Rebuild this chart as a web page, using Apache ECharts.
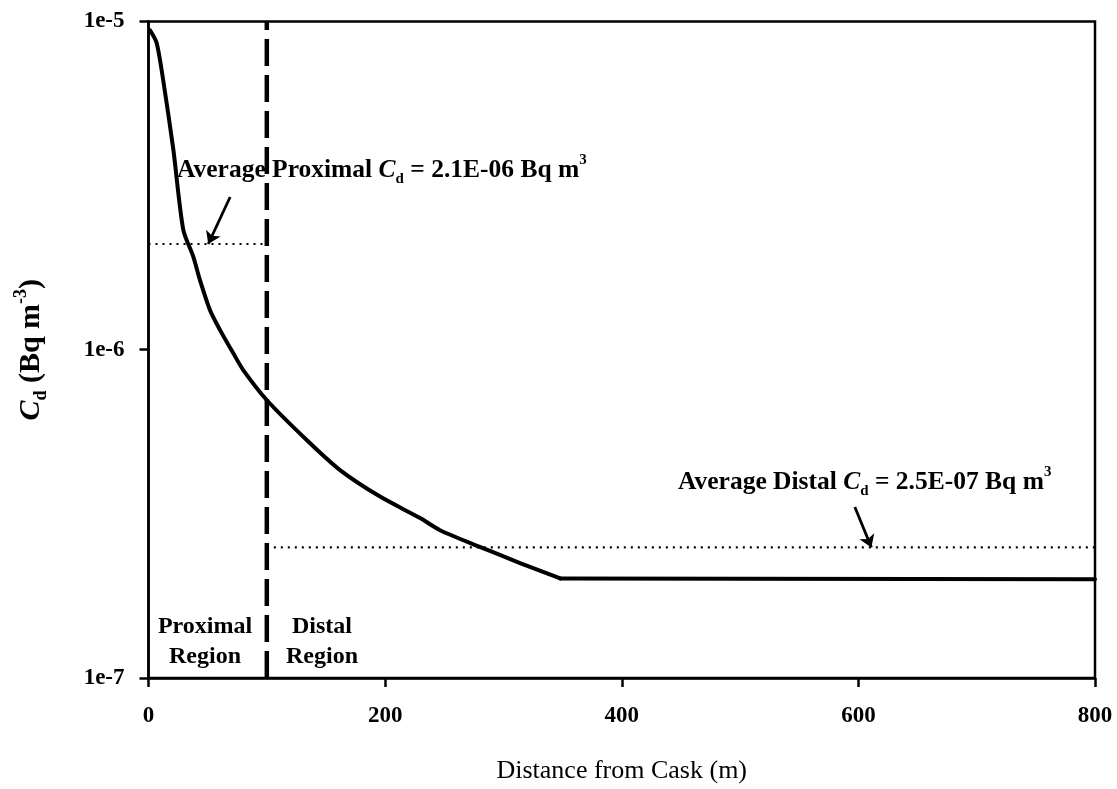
<!DOCTYPE html>
<html>
<head>
<meta charset="utf-8">
<script src="https://cdn.jsdelivr.net/npm/echarts@6/dist/echarts.min.js"></script>
<style>
  html, body { margin: 0; padding: 0; background: #fff; }
  #chart { width: 1117px; height: 789px; }
</style>
</head>
<body>
<div id="chart"></div>
<script>
// Airborne concentration C_d versus distance from the cask (log scale)
const distance = [1.3, 6.9, 12.5, 21, 29.4, 37.9, 43.5, 52, 60.4, 71.7, 80.1, 99.9,
                  133.7, 161.9, 195.7, 229.6, 246.4, 280, 314, 348, 800];
const concentration = [9.4e-6, 8.6e-6, 6.6e-6, 4.07e-6, 2.32e-6, 1.92e-6, 1.63e-6, 1.32e-6,
                       1.15e-6, 9.75e-7, 8.67e-7, 7.03e-7, 5.31e-7, 4.30e-7, 3.57e-7,
                       3.07e-7, 2.82e-7, 2.51e-7, 2.24e-7, 2.01e-7, 2.0e-7];
// distance where the concentration levels off
const plateauStart = 348;

// Region boundary and averages
const regionBoundary = 100;
const distanceMax = 800;
const proximalAverage = 2.1e-6;
const distalAverage = 2.5e-7;

// Annotation arrows: [start, tip]
const proximalArrow = [[69, 2.92e-6], [50.5, 2.1e-6]];
const distalArrow = [[597, 3.32e-7], [611, 2.5e-7]];

// Axis ticks
const xTicks = [0, 200, 400, 600, 800];
const yTickLabels = { '-7': '1e-7', '-6': '1e-6', '-5': '1e-5' };

const FONT = '"Liberation Serif", "DejaVu Serif", serif';

const chart = echarts.init(document.getElementById('chart'), null, { renderer: 'canvas' });

const points = distance.map((d, i) => [d, concentration[i]]);
const split = distance.indexOf(plateauStart);
const decay = points.slice(0, split + 1);
const plateau = points.slice(split);

const subStyle = (size, bold) => ({
  fontFamily: FONT, fontWeight: bold ? 'bold' : 'normal', fontSize: size, color: '#000', fill: '#000',
  verticalAlign: 'bottom', lineHeight: size
});
const supStyle = (size, bold) => ({
  fontFamily: FONT, fontWeight: bold ? 'bold' : 'normal', fontSize: size, color: '#000', fill: '#000',
  verticalAlign: 'top', lineHeight: size
});
const normStyle = (size, lh, italic, bold) => ({
  fontFamily: FONT, fontWeight: bold ? 'bold' : 'normal', fontSize: size, color: '#000', fill: '#000',
  fontStyle: italic ? 'italic' : 'normal', lineHeight: lh
});

const annotationRich = {
  n: normStyle(25.5, 34, false, true),
  i: normStyle(25.5, 34, true, true),
  s: subStyle(15, true),
  p: supStyle(15, true)
};

const curveLine = { color: '#000', width: 4, cap: 'round', join: 'round' };

const option = {
  animation: false,
  backgroundColor: '#fff',
  grid: {
    left: 148.5, right: 22, top: 21.5, bottom: 111,
    show: true, borderColor: '#000', borderWidth: 2.5, backgroundColor: 'transparent'
  },
  xAxis: {
    type: 'value',
    min: xTicks[0], max: xTicks[xTicks.length - 1], interval: xTicks[1] - xTicks[0],
    axisLine: { show: true, onZero: false, lineStyle: { color: '#000', width: 2.5 } },
    axisTick: { show: true, inside: false, length: 9, lineStyle: { color: '#000', width: 2.5 } },
    axisLabel: { color: '#000', fontFamily: FONT, fontWeight: 'bold', fontSize: 23, margin: 27 },
    splitLine: { show: false },
    name: 'Distance from Cask (m)',
    nameLocation: 'middle',
    nameGap: 80,
    nameTextStyle: { color: '#000', fontFamily: FONT, fontSize: 26 }
  },
  yAxis: {
    type: 'log', logBase: 10, min: 1e-7, max: 1e-5,
    axisLine: { show: true, lineStyle: { color: '#000', width: 2.5 } },
    axisTick: { show: true, inside: false, length: 9, lineStyle: { color: '#000', width: 2.5 } },
    minorTick: { show: false },
    axisLabel: {
      color: '#000', fontFamily: FONT, fontWeight: 'bold', fontSize: 23, margin: 24,
      formatter: (v) => yTickLabels[String(Math.round(Math.log10(v)))] || ''
    },
    splitLine: { show: false },
    name: '{i|C}{s|d}{n| (Bq m}{p|-3}{n|)}',
    nameLocation: 'middle',
    nameRotate: 90,
    nameGap: 98,
    nameTextStyle: {
      color: '#000',
      rich: {
        n: { fontFamily: FONT, fontSize: 30, fontWeight: 'bold', color: '#000', lineHeight: 38 },
        i: { fontFamily: FONT, fontSize: 30, fontWeight: 'bold', color: '#000', fontStyle: 'italic', lineHeight: 38 },
        s: { fontFamily: FONT, fontSize: 18, fontWeight: 'bold', color: '#000', verticalAlign: 'bottom', lineHeight: 18 },
        p: { fontFamily: FONT, fontSize: 18, fontWeight: 'bold', color: '#000', verticalAlign: 'top', lineHeight: 18 }
      }
    }
  },
  series: [
    {
      name: 'C_d decay',
      type: 'line',
      data: decay,
      showSymbol: false,
      symbol: 'none',
      smooth: 0.25,
      lineStyle: curveLine,
      z: 5
    },
    {
      name: 'C_d plateau',
      type: 'line',
      data: plateau,
      showSymbol: false,
      symbol: 'none',
      lineStyle: curveLine,
      z: 5
    },
    {
      name: 'Region boundary',
      type: 'line',
      data: [[regionBoundary, 1e-7], [regionBoundary, 1e-5]],
      symbol: 'none',
      lineStyle: { color: '#000', width: 4.5, type: [27, 9] },
      z: 4
    },
    {
      name: 'Average proximal',
      type: 'line',
      data: [[0, proximalAverage], [regionBoundary, proximalAverage]],
      symbol: 'none',
      lineStyle: { color: '#000', width: 2.2, type: [2, 5] },
      z: 3
    },
    {
      name: 'Average distal',
      type: 'line',
      data: [[regionBoundary, distalAverage], [distanceMax, distalAverage]],
      symbol: 'none',
      lineStyle: { color: '#000', width: 2.2, type: [2, 5] },
      z: 3
    },
    {
      name: 'Arrows',
      type: 'lines',
      coordinateSystem: 'cartesian2d',
      symbol: ['none', 'arrow'],
      symbolSize: [1, 12],
      lineStyle: { color: '#000', width: 2.8, opacity: 1 },
      data: [{ coords: proximalArrow }, { coords: distalArrow }],
      z: 6
    }
  ],
  graphic: [
    {
      type: 'text', x: 177, y: 170, z: 10,
      style: {
        text: '{n|Average Proximal }{i|C}{s|d}{n| = 2.1E-06 Bq m}{p|3}',
        rich: annotationRich, align: 'left', verticalAlign: 'middle', fill: '#000'
      }
    },
    {
      type: 'text', x: 678, y: 482, z: 10,
      style: {
        text: '{n|Average Distal }{i|C}{s|d}{n| = 2.5E-07 Bq m}{p|3}',
        rich: annotationRich, align: 'left', verticalAlign: 'middle', fill: '#000'
      }
    },
    {
      type: 'text', x: 205, y: 642, z: 10,
      style: {
        text: 'Proximal\nRegion', fill: '#000',
        font: 'bold 24px ' + FONT, lineHeight: 30,
        align: 'center', verticalAlign: 'middle'
      }
    },
    {
      type: 'text', x: 322, y: 642, z: 10,
      style: {
        text: 'Distal\nRegion', fill: '#000',
        font: 'bold 24px ' + FONT, lineHeight: 30,
        align: 'center', verticalAlign: 'middle'
      }
    }
  ]
};

chart.setOption(option);
</script>
</body>
</html>
